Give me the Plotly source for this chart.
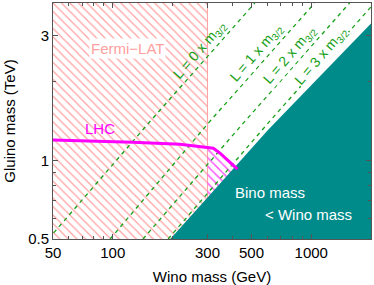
import numpy as np
import plotly.graph_objects as go

# ---- data ----
x_range = [50, 2000]          # Wino mass (GeV)
y_range = [0.5, 4.0]          # Gluino mass (TeV)
x_ticks = [50, 100, 300, 500, 1000]
y_ticks = [0.5, 1, 3]
x_minor = [60, 70, 80, 90, 200, 400, 600, 700, 800, 900, 2000]
y_minor = [0.6, 0.7, 0.8, 0.9, 2, 4]

fermi_limit = 300             # Wino mass below which Fermi-LAT excludes

# LHC exclusion curve
lhc_wino = [50, 126, 218, 321, 347, 405, 425]
lhc_gluino = [1.197, 1.174, 1.152, 1.113, 1.065, 0.96, 0.925]

# Bino mass = Wino mass boundary
bw_wino = [195, 320, 607, 2000]
bw_gluino = [0.5, 0.759, 1.308, 3.34]

# L = n x m3/2 lines
L_values = [0, 1, 2, 3]
L_gluino = [0.5, 1.40, 4.0]
L0_wino = [47.4, 153, 520]
L1_wino = [97, 306, 1040]
L2_wino = [142, 459, 1560]
L3_wino = [190, 612, 2080]
L_label_wino = [275, 531, 781, 1129]
L_label_gluino = [2.65, 2.57, 2.535, 2.50]

PINK = "#FFA0A0"
MAGENTA = "#FF00FF"
GREEN = "#16A016"
TEAL = "#008B8B"
AXC = "#555555"
FONT = "Liberation Sans, Arial, sans-serif"

fig = go.Figure()

# Fermi-LAT hatched region
fig.add_trace(go.Scatter(
    x=[x_range[0], fermi_limit, fermi_limit, x_range[0], x_range[0]],
    y=[y_range[0], y_range[0], y_range[1], y_range[1], y_range[0]],
    mode="lines", line=dict(width=0), fill="toself",
    fillcolor="rgba(0,0,0,0)",
    fillpattern=dict(shape="\\", fgcolor=PINK, bgcolor="rgba(255,255,255,0)",
                     size=6, solidity=0.2),
    hoverinfo="skip", showlegend=False))
fig.add_trace(go.Scatter(x=[fermi_limit, fermi_limit], y=y_range, mode="lines",
                         line=dict(color=PINK, width=1), showlegend=False))

# LHC hatched region (visible right of the Fermi limit)
lw = np.array(lhc_wino, float)
lg = np.array(lhc_gluino, float)
g_at_limit = 10 ** np.interp(np.log10(fermi_limit), np.log10(lw), np.log10(lg))
sel = lw > fermi_limit
hx = [fermi_limit, fermi_limit] + list(lw[sel]) + [lw[-1], fermi_limit]
hy = [y_range[0], g_at_limit] + list(lg[sel]) + [y_range[0], y_range[0]]
fig.add_trace(go.Scatter(
    x=hx, y=hy, mode="lines", line=dict(width=0), fill="toself",
    fillcolor="rgba(0,0,0,0)",
    fillpattern=dict(shape="\\", fgcolor="#FF55FF", bgcolor="rgba(255,255,255,0)",
                     size=6, solidity=0.25),
    hoverinfo="skip", showlegend=False))

# Bino < Wino region
tx = bw_wino + [x_range[1], bw_wino[0]]
ty = bw_gluino + [y_range[0], bw_gluino[0]]
fig.add_trace(go.Scatter(x=tx, y=ty, mode="lines", line=dict(width=0, color=TEAL),
                         fill="toself", fillcolor=TEAL, hoverinfo="skip",
                         showlegend=False))

# L lines
for w in [L0_wino, L1_wino, L2_wino, L3_wino]:
    fig.add_trace(go.Scatter(x=w, y=L_gluino, mode="lines",
                             line=dict(color=GREEN, width=1.3, dash="4px,4px"),
                             showlegend=False))

# LHC line
fig.add_trace(go.Scatter(x=lhc_wino, y=lhc_gluino, mode="lines",
                         line=dict(color=MAGENTA, width=3), showlegend=False))

ann = []
for n, xw, yg in zip(L_values, L_label_wino, L_label_gluino):
    ann.append(dict(x=np.log10(xw), y=np.log10(yg), xref="x", yref="y",
                    text=f"L = {n} x m<sub>3/2</sub>", showarrow=False,
                    textangle=-49, font=dict(color=GREEN, size=14, family=FONT),
                    bgcolor="white" if n > 0 else "rgba(0,0,0,0)", borderpad=0))
ann.append(dict(x=np.log10(119), y=np.log10(2.67), xref="x", yref="y",
                text="Fermi−LAT", showarrow=False, bgcolor="white", borderpad=1,
                font=dict(color=PINK, size=15, family=FONT)))
ann.append(dict(x=np.log10(86.7), y=np.log10(1.32), xref="x", yref="y",
                text="LHC", showarrow=False,
                font=dict(color=MAGENTA, size=15, family=FONT)))
ann.append(dict(x=np.log10(620), y=np.log10(0.75), xref="x", yref="y",
                text="Bino mass", showarrow=False,
                font=dict(color="white", size=15, family=FONT)))
ann.append(dict(x=np.log10(970), y=np.log10(0.623), xref="x", yref="y",
                text="&lt; Wino mass", showarrow=False,
                font=dict(color="white", size=15, family=FONT)))

axis_common = dict(type="log", showgrid=False, zeroline=False, showline=True,
                   linecolor=AXC, linewidth=1, mirror="ticks", ticks="inside",
                   ticklen=5, tickcolor=AXC, tickwidth=1, automargin=False,
                   tickfont=dict(size=15, color="black", family=FONT))

fig.update_layout(
    template="none",
    width=374, height=285, margin=dict(l=53, r=3, t=3, b=46, autoexpand=False),
    paper_bgcolor="white", plot_bgcolor="white",
    font=dict(family=FONT, color="black"),
    annotations=ann,
    xaxis=dict(**axis_common, range=[np.log10(x_range[0]), np.log10(x_range[1])],
               tickvals=x_ticks, ticktext=[str(v) for v in x_ticks],
               minor=dict(ticks="inside", ticklen=3, tickcolor=AXC, tickvals=x_minor),
               title=dict(text="Wino mass (GeV)", font=dict(size=15, family=FONT),
                          standoff=11)),
    yaxis=dict(**axis_common, range=[np.log10(y_range[0]), np.log10(y_range[1])],
               tickvals=y_ticks, ticktext=[str(v) for v in y_ticks],
               minor=dict(ticks="inside", ticklen=3, tickcolor=AXC, tickvals=y_minor),
               title=dict(text="Gluino mass (TeV)", font=dict(size=15, family=FONT),
                          standoff=8)),
)

fig.write_html("out.html", config={"displayModeBar": False},
               post_script="document.body.style.margin='0px';"
                           "document.body.style.padding='0px';")
